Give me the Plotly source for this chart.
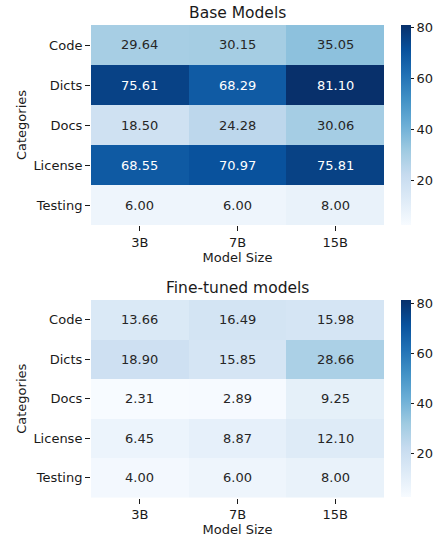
import plotly.graph_objects as go

categories = ["Code", "Dicts", "Docs", "License", "Testing"]
model_sizes = ["3B", "7B", "15B"]
base_values = [
    [29.64, 30.15, 35.05],
    [75.61, 68.29, 81.10],
    [18.50, 24.28, 30.06],
    [68.55, 70.97, 75.81],
    [6.00, 6.00, 8.00],
]
ft_values = [
    [13.66, 16.49, 15.98],
    [18.90, 15.85, 28.66],
    [2.31, 2.89, 9.25],
    [6.45, 8.87, 12.10],
    [4.00, 6.00, 8.00],
]
titles = ["Base Models", "Fine-tuned models"]
cb_ticks = [20, 40, 60, 80]

blues = ["#f7fbff", "#deebf7", "#c6dbef", "#9ecae1", "#6baed6",
         "#4292c6", "#2171b5", "#08519c", "#08306b"]
colorscale = [[i / 8, c] for i, c in enumerate(blues)]

allv = [v for m in (base_values, ft_values) for r in m for v in r]
zmin, zmax = min(allv), max(allv)

def hex2rgb(h):
    return [int(h[i:i + 2], 16) / 255 for i in (1, 3, 5)]

def color_at(v):
    t = (v - zmin) / (zmax - zmin) * 8
    i = min(int(t), 7)
    f = t - i
    a, b = hex2rgb(blues[i]), hex2rgb(blues[i + 1])
    return [a[k] + (b[k] - a[k]) * f for k in range(3)]

def lum(rgb):
    c = [x / 12.92 if x <= 0.03928 else ((x + 0.055) / 1.055) ** 2.4 for x in rgb]
    return 0.2126 * c[0] + 0.7152 * c[1] + 0.0722 * c[2]

W, H = 443, 540
x0, x1 = 91 / W, 384 / W
doms = [[1 - 225 / H, 1 - 25 / H], [1 - 497.5 / H, 1 - 300 / H]]
font = "DejaVu Sans"
tc = "#1a1a1a"

fig = go.Figure()
annotations = []
for k, (vals, title) in enumerate(zip([base_values, ft_values], titles)):
    xa = "x" if k == 0 else "x2"
    ya = "y" if k == 0 else "y2"
    d = doms[k]
    fig.add_trace(go.Heatmap(
        z=vals, x=model_sizes, y=categories, xaxis=xa, yaxis=ya,
        colorscale=colorscale, zmin=zmin, zmax=zmax, xgap=0, ygap=0,
        colorbar=dict(x=401 / W, xanchor="left", xpad=0, ypad=0, y=(d[0] + d[1]) / 2,
                      yanchor="middle", len=d[1] - d[0], lenmode="fraction",
                      thickness=10, outlinewidth=0, tickvals=cb_ticks,
                      ticks="outside", ticklen=3.5, tickcolor=tc,
                      tickfont=dict(family=font, size=13, color=tc)),
    ))
    for i, row in enumerate(vals):
        for j, v in enumerate(row):
            col = "white" if lum(color_at(v)) < 0.408 else "#262626"
            annotations.append(dict(x=model_sizes[j], y=categories[i], xref=xa, yref=ya,
                                    text=f"{v:.2f}", showarrow=False,
                                    font=dict(family=font, size=13, color=col)))
    annotations.append(dict(x=(x0 + x1) / 2, y=d[1], xref="paper", yref="paper",
                            yanchor="bottom", yshift=1, text=title, showarrow=False,
                            font=dict(family=font, size=15.5, color=tc)))

axis_common = dict(showgrid=False, zeroline=False, ticks="outside", ticklen=5,
                   tickcolor=tc, showline=False, automargin=False,
                   tickfont=dict(family=font, size=13, color=tc))
tfont = dict(family=font, size=13, color=tc)
fig.update_layout(
    width=W, height=H, margin=dict(l=0, r=0, t=0, b=0, autoexpand=False),
    paper_bgcolor="white", plot_bgcolor="white",
    annotations=annotations,
    xaxis=dict(domain=[x0, x1], anchor="y", title=dict(text="Model Size", standoff=1, font=tfont), **axis_common),
    yaxis=dict(domain=doms[0], anchor="x", autorange="reversed",
               title=dict(text="Categories", standoff=3, font=tfont), **axis_common),
    xaxis2=dict(domain=[x0, x1], anchor="y2", title=dict(text="Model Size", standoff=1, font=tfont), **axis_common),
    yaxis2=dict(domain=doms[1], anchor="x2", autorange="reversed",
                title=dict(text="Categories", standoff=3, font=tfont), **axis_common),
)
fig.write_html("out.html", config={"displayModeBar": False},
               post_script="document.body.style.margin='0';")
